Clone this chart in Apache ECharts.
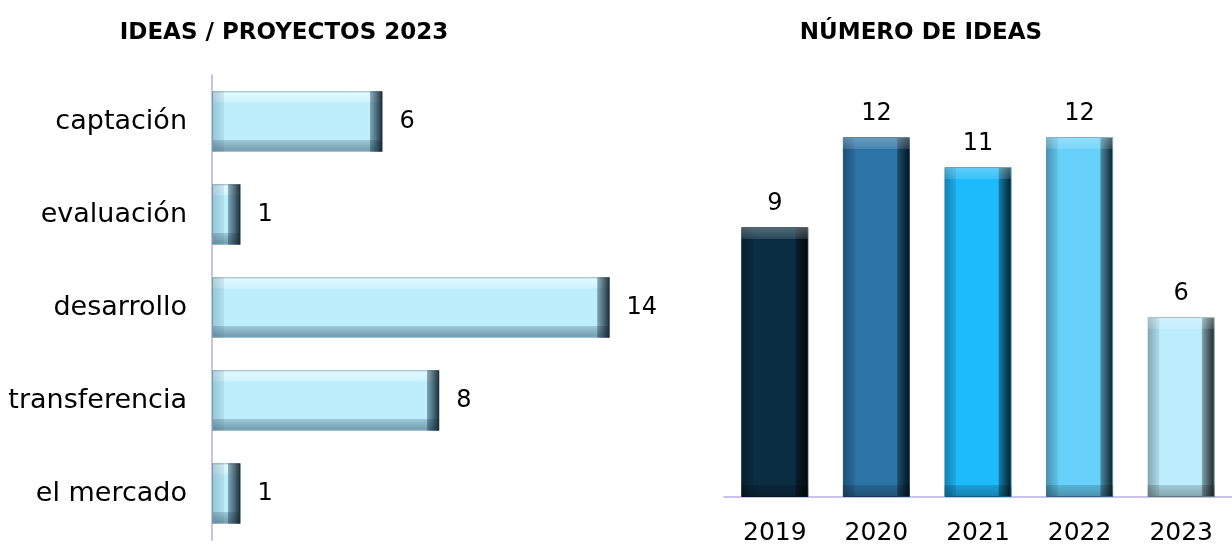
<!DOCTYPE html>
<html>
<head>
<meta charset="utf-8">
<title>Ideas / Proyectos 2023</title>
<script src="https://cdn.jsdelivr.net/npm/echarts@6/dist/echarts.min.js"></script>
<style>
  html, body { margin: 0; padding: 0; background: #fff; }
  #chart { width: 1232px; height: 546px; }
</style>
</head>
<body>
<div id="chart"></div>
<script>
// left chart: ideas / proyectos 2023 by phase
const phases = ['captación', 'evaluación', 'desarrollo', 'transferencia', 'el mercado']
const phaseValues = [6, 1, 14, 8, 1]

// right chart: number of ideas per year
const years = ['2019', '2020', '2021', '2022', '2023']
const yearValues = [9, 12, 11, 12, 6]
const yearColors = ['#0b2d42', '#2c74a6', '#1dbafc', '#67d1fb', '#bcedfd']

const FONT = 'DejaVu Sans'
const BEVEL = 12

// darken (amt < 0) or lighten (amt > 0) a hex colour
function shade(hex, amt) {
  const n = parseInt(hex.slice(1), 16)
  const c = [(n >> 16) & 255, (n >> 8) & 255, n & 255].map(v => {
    const r = amt < 0 ? v * (1 + amt) : v + (255 - v) * amt
    return Math.round(Math.max(0, Math.min(255, r)))
  })
  return 'rgb(' + c.join(',') + ')'
}

function grad(x2, y2, stops) {
  return {
    type: 'linear', x: 0, y: 0, x2: x2, y2: y2,
    colorStops: stops.map(s => ({ offset: s[0], color: s[1] }))
  }
}

const chart = echarts.init(document.getElementById('chart'))

// left bars: light cyan with bevel across thickness
const leftBase = '#bdeefc'
const leftFill = grad(0, 1, [
  [0, '#e2faff'], [0.18, '#cff4ff'], [0.19, leftBase],
  [0.8, leftBase], [0.81, '#9cc8d8'], [1, '#6e98ab']
])
const leftPxPerUnit = 28.4

// right bars: per-year colour with side bevels
const rightPxPerUnit = 30
const yearItems = yearValues.map((v, i) => {
  const base = yearColors[i]
  return {
    value: v,
    itemStyle: {
      color: grad(1, 0, [
        [0, shade(base, -0.3)], [0.17, shade(base, -0.08)], [0.18, base],
        [0.8, base], [0.82, shade(base, -0.35)], [1, shade(base, -0.85)]
      ]),
      borderColor: shade(base, -0.3),
      borderWidth: 1
    }
  }
})

// overlays to fake the end bevels (length depends on bar size)
const leftOverlay = phaseValues.map(v => {
  const f = Math.min(0.45, BEVEL / (v * leftPxPerUnit))
  return {
    value: v,
    itemStyle: {
      color: grad(1, 0, [
        [0, 'rgba(60,100,120,0.3)'], [f, 'rgba(60,100,120,0.1)'], [f + 0.001, 'rgba(0,0,0,0)'],
        [1 - f - 0.001, 'rgba(0,0,0,0)'], [1 - f, 'rgba(20,50,70,0.4)'], [1, 'rgba(10,25,35,0.9)']
      ])
    }
  }
})

const rightOverlay = yearValues.map(v => {
  const f = BEVEL / (v * rightPxPerUnit)
  return {
    value: v,
    itemStyle: {
      color: grad(0, 1, [
        [0, 'rgba(255,255,255,0.3)'], [f, 'rgba(255,255,255,0.12)'], [f + 0.001, 'rgba(0,0,0,0)'],
        [1 - f - 0.001, 'rgba(0,0,0,0)'], [1 - f, 'rgba(0,0,0,0.15)'], [1, 'rgba(0,0,0,0.3)']
      ])
    }
  }
})

chart.setOption({
  animation: false,
  textStyle: { fontFamily: FONT },
  title: [
    {
      text: 'IDEAS / PROYECTOS 2023',
      left: 279, top: 17, textAlign: 'center',
      textStyle: { fontFamily: FONT, fontSize: 23, fontWeight: 'bold', color: '#000' }
    },
    {
      text: 'NÚMERO DE IDEAS',
      left: 916, top: 17, textAlign: 'center',
      textStyle: { fontFamily: FONT, fontSize: 23, fontWeight: 'bold', color: '#000' }
    }
  ],
  grid: [
    { left: 212, top: 75, width: 14 * leftPxPerUnit, height: 465 },
    { left: 724, bottom: 49, width: 516, height: 14 * rightPxPerUnit }
  ],
  xAxis: [
    { type: 'value', gridIndex: 0, min: 0, max: 14, show: false },
    {
      type: 'category', gridIndex: 1, data: years,
      axisLine: { lineStyle: { color: '#c9c3e8', width: 2 } },
      axisTick: { show: false },
      axisLabel: { fontFamily: FONT, fontSize: 25, color: '#000', margin: 24 }
    }
  ],
  yAxis: [
    {
      type: 'category', gridIndex: 0, data: phases, inverse: true,
      axisLine: { lineStyle: { color: '#c9c3e8', width: 2 } },
      axisTick: { show: false },
      axisLabel: { fontFamily: FONT, fontSize: 27, color: '#000', margin: 25 }
    },
    { type: 'value', gridIndex: 1, min: 0, max: 14, show: false }
  ],
  series: [
    {
      type: 'bar', xAxisIndex: 0, yAxisIndex: 0,
      data: phaseValues,
      barCategoryGap: '35%',
      itemStyle: { color: leftFill, borderColor: '#8fb6c6', borderWidth: 1 },
      label: {
        show: true, position: 'right', distance: 17,
        fontFamily: FONT, fontSize: 24, color: '#000'
      },
      z: 2
    },
    {
      type: 'bar', xAxisIndex: 0, yAxisIndex: 0,
      data: leftOverlay,
      barGap: '-100%',
      barCategoryGap: '35%',
      silent: true,
      z: 3
    },
    {
      type: 'bar', xAxisIndex: 1, yAxisIndex: 1,
      data: yearItems,
      barCategoryGap: '34%',
      label: {
        show: true, position: 'top', distance: 11,
        fontFamily: FONT, fontSize: 24, color: '#000'
      },
      z: 2
    },
    {
      type: 'bar', xAxisIndex: 1, yAxisIndex: 1,
      data: rightOverlay,
      barGap: '-100%',
      barCategoryGap: '34%',
      silent: true,
      z: 3
    }
  ]
})
</script>
</body>
</html>
